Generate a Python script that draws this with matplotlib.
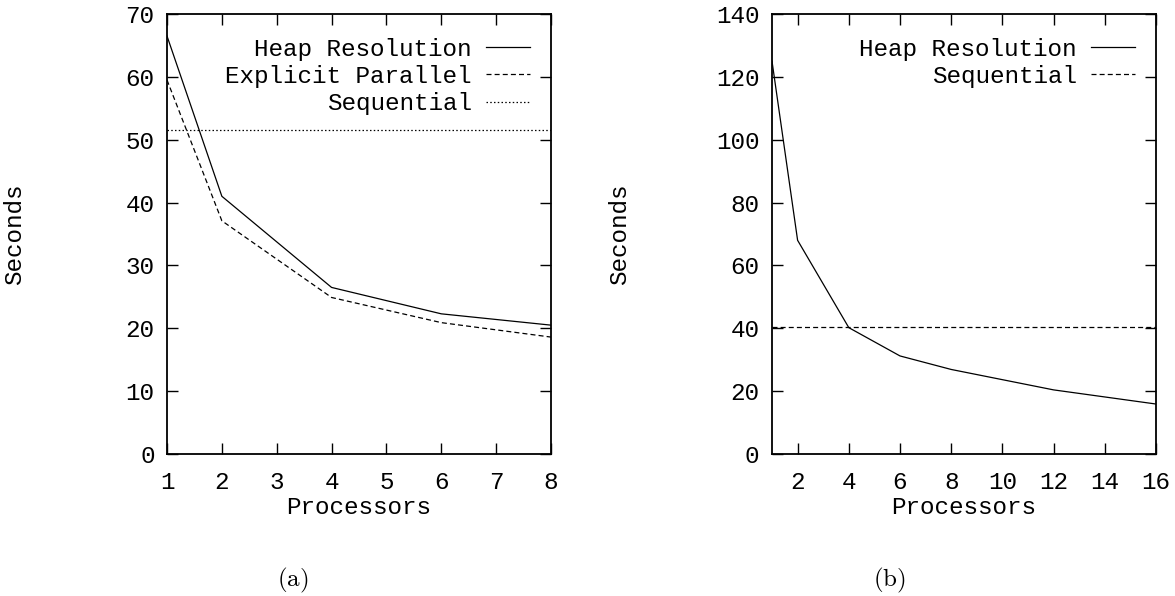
import matplotlib

matplotlib.use("Agg")
import matplotlib.pyplot as plt

# Panneau (a) : temps d'execution jusqu'a 8 processeurs
procs_a = [1, 2, 4, 6, 8]
heap_a = [66.5, 41.0, 26.5, 22.3, 20.5]
explicit_a = [59.5, 37.1, 24.9, 20.9, 18.6]
sequential_a = 51.6

# Panneau (b) : jusqu'a 16 processeurs
procs_b = [1, 2, 4, 6, 8, 12, 16]
heap_b = [125.0, 68.0, 40.2, 31.2, 26.9, 20.4, 15.9]
sequential_b = 40.5

xticks_a = [1, 2, 3, 4, 5, 6, 7, 8]
yticks_a = [0, 10, 20, 30, 40, 50, 60, 70]
xticks_b = [2, 4, 6, 8, 10, 12, 14, 16]
yticks_b = [0, 20, 40, 60, 80, 100, 120, 140]

MONO = ["Liberation Mono", "DejaVu Sans Mono"]
FS = 17.5

plt.rcParams.update({
    "font.family": MONO,
    "font.size": FS,
    "mathtext.fontset": "cm",
    "axes.linewidth": 1.3,
})

fig = plt.figure(figsize=(11.75, 5.96), dpi=100)
W, H = 1175, 596


def make_axes(x0, x1):
    return fig.add_axes([x0 / W, (H - 454) / H, (x1 - x0) / W, 440 / H])


def style(ax, xlim, ylim, xticks, yticks):
    ax.set_xlim(*xlim)
    ax.set_ylim(*ylim)
    ax.set_xticks(xticks)
    ax.set_yticks(yticks)
    ax.tick_params(direction="in", length=8, width=1, top=True, right=True,
                   labelsize=FS, pad=12)
    ax.tick_params(axis="y", pad=9)
    ax.set_xlabel("Processors", fontsize=FS, labelpad=2)
    ax.set_ylabel("Seconds", fontsize=FS)
    ax.yaxis.set_label_coords(-0.367, 0.5)


def legend(ax):
    ax.legend(loc="upper right", frameon=False, markerfirst=False, fontsize=FS,
              handlelength=1.8, handletextpad=0.6, labelspacing=0.18,
              borderaxespad=0.3, bbox_to_anchor=(0.99, 0.985))


ax = make_axes(167, 551)
ax.plot(procs_a, heap_a, color="black", lw=0.9, label="Heap Resolution")
ax.plot(procs_a, explicit_a, color="black", lw=0.9, ls=(0, (4, 2.5)),
        label="Explicit Parallel")
ax.axhline(sequential_a, color="black", lw=0.9, ls=(0, (1.2, 1.8)), label="Sequential")
style(ax, (1, 8), (0, 70), xticks_a, yticks_a)
legend(ax)

ax2 = make_axes(772, 1156)
ax2.plot(procs_b, heap_b, color="black", lw=0.9, label="Heap Resolution")
ax2.axhline(sequential_b, color="black", lw=0.9, ls=(0, (4, 2.5)), label="Sequential")
style(ax2, (1, 16), (0, 140), xticks_b, yticks_b)
legend(ax2)

fig.text(293 / W, 1 - 580 / H, r"$\mathrm{(a)}$", ha="center", va="center", fontsize=18)
fig.text(889 / W, 1 - 580 / H, r"$\mathrm{(b)}$", ha="center", va="center", fontsize=18)

fig.savefig("out.png", dpi=100, facecolor="white")
